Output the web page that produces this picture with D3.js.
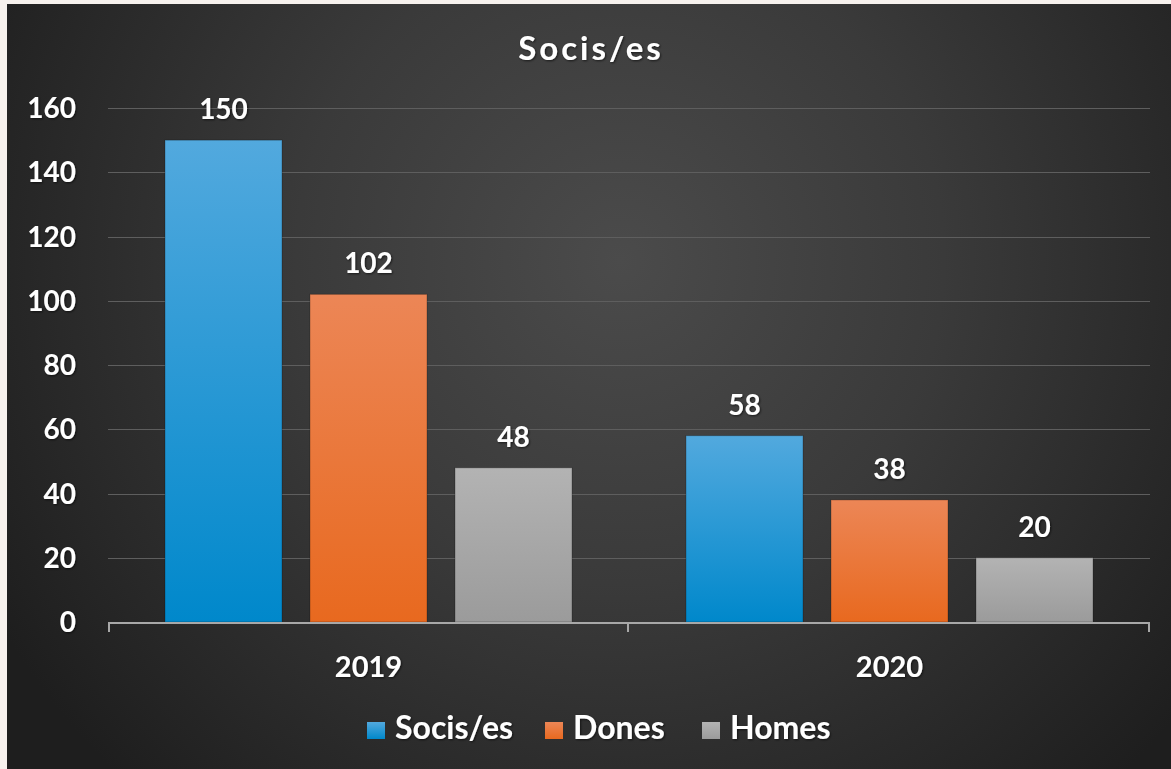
<!DOCTYPE html>
<html>
<head>
<meta charset="utf-8">
<script src="https://cdn.jsdelivr.net/npm/d3@7"></script>
<style>
  html, body { margin: 0; padding: 0; background: #f7f2ee; }
  svg { display: block; }
  text { font-family: Lato, "Open Sans", sans-serif; font-weight: 700; fill: #ffffff; }
</style>
</head>
<body>
<svg id="chart" width="1171" height="769"></svg>
<script>
const title = "Socis/es";
const categories = ["2019", "2020"];
const seriesNames = ["Socis/es", "Dones", "Homes"];
const sociesValues = [150, 58];
const donesValues = [102, 38];
const homesValues = [48, 20];
const yTicks = [0, 20, 40, 60, 80, 100, 120, 140, 160];

(function () {
const seriesValues = [sociesValues, donesValues, homesValues];
const colorsTop = ["#52a9de", "#ec8656", "#b3b3b3"];
const colorsBottom = ["#0088cb", "#e8691f", "#9b9b9b"];

const W = 1171, H = 769;
const svg = d3.select("#chart");
const defs = svg.append("defs");

const bg = defs.append("radialGradient").attr("id", "bg")
  .attr("gradientUnits", "userSpaceOnUse")
  .attr("cx", 620).attr("cy", 260).attr("r", 720);
bg.append("stop").attr("offset", "0").attr("stop-color", "#4b4b4b");
bg.append("stop").attr("offset", "0.45").attr("stop-color", "#3a3a3a");
bg.append("stop").attr("offset", "1").attr("stop-color", "#1e1e1e");

svg.append("rect").attr("x", 0).attr("y", 0).attr("width", W).attr("height", H).attr("fill", "#f7f2ee");
svg.append("rect").attr("x", 7).attr("y", 4).attr("width", W - 7).attr("height", H - 4).attr("fill", "url(#bg)");

seriesNames.forEach((s, i) => {
  const g = defs.append("linearGradient").attr("id", "grad" + i)
    .attr("x1", 0).attr("y1", 0).attr("x2", 0).attr("y2", 1);
  g.append("stop").attr("offset", "0").attr("stop-color", colorsTop[i]);
  g.append("stop").attr("offset", "1").attr("stop-color", colorsBottom[i]);
});

const shadow = defs.append("filter").attr("id", "tshadow").attr("x", "-10%").attr("y", "-10%").attr("width", "120%").attr("height", "130%");
shadow.append("feDropShadow").attr("dx", 1).attr("dy", 1).attr("stdDeviation", 1).attr("flood-color", "#000").attr("flood-opacity", 0.6);

const pLeft = 108, pRight = 1150, pTop = 108, pBottom = 622;

const y = d3.scaleLinear().domain([0, 160]).range([pBottom, pTop]);
const x0 = d3.scaleBand().domain(categories).range([pLeft, pRight]).paddingInner(0).paddingOuter(0);
const x1 = d3.scaleBand().domain(seriesNames).range([0, x0.bandwidth()]).paddingInner(0.193).paddingOuter(0.393);

svg.append("g").selectAll("line").data(yTicks.filter(t => t > 0)).join("line")
  .attr("x1", pLeft).attr("x2", pRight)
  .attr("y1", d => Math.round(y(d)) + 0.5).attr("y2", d => Math.round(y(d)) + 0.5)
  .attr("stroke", "#5e5e5e").attr("stroke-width", 1);

svg.append("g").selectAll("text").data(yTicks).join("text")
  .attr("x", 76).attr("y", d => y(d))
  .attr("dy", "0.36em")
  .attr("text-anchor", "end")
  .attr("font-size", 28)
  .attr("filter", "url(#tshadow)")
  .text(d => d);

const groups = svg.append("g").selectAll("g").data(categories).join("g")
  .attr("transform", d => `translate(${x0(d)},0)`);

groups.each(function (cat, ci) {
  const g = d3.select(this);
  seriesNames.forEach((s, si) => {
    const v = seriesValues[si][ci];
    g.append("rect")
      .attr("x", x1(s)).attr("y", y(v))
      .attr("width", x1.bandwidth()).attr("height", y(0) - y(v))
      .attr("fill", `url(#grad${si})`)
      .attr("stroke", "rgba(0,0,0,0.25)").attr("stroke-width", 1);
    g.append("text")
      .attr("x", x1(s) + x1.bandwidth() / 2).attr("y", y(v) - 21)
      .attr("text-anchor", "middle")
      .attr("font-size", 28)
      .attr("filter", "url(#tshadow)")
      .text(v);
  });
});

const axisColor = "#a8a8a8";
svg.append("line").attr("x1", pLeft).attr("x2", pRight).attr("y1", pBottom + 1).attr("y2", pBottom + 1)
  .attr("stroke", axisColor).attr("stroke-width", 2);
const tickXs = [pLeft, ...categories.map(c => x0(c) + x0.bandwidth())];
svg.append("g").selectAll("line").data(tickXs).join("line")
  .attr("x1", d => d === pLeft ? d + 1 : d - 1).attr("x2", d => d === pLeft ? d + 1 : d - 1)
  .attr("y1", pBottom).attr("y2", pBottom + 10)
  .attr("stroke", axisColor).attr("stroke-width", 2);

svg.append("g").selectAll("text").data(categories).join("text")
  .attr("x", d => x0(d) + x0.bandwidth() / 2)
  .attr("y", 677)
  .attr("text-anchor", "middle")
  .attr("font-size", 29)
  .attr("filter", "url(#tshadow)")
  .text(d => d);

svg.append("text")
  .attr("x", 591).attr("y", 60)
  .attr("text-anchor", "middle")
  .attr("font-size", 33)
  .attr("letter-spacing", 3)
  .attr("filter", "url(#tshadow)")
  .text(title);

const legendX = [367, 545, 702];
const lg = svg.append("g").selectAll("g").data(seriesNames).join("g")
  .attr("transform", (d, i) => `translate(${legendX[i]},722)`);
lg.append("rect").attr("width", 18).attr("height", 17)
  .attr("fill", (d, i) => `url(#grad${i})`);
lg.append("text").attr("x", 28).attr("y", 17)
  .attr("font-size", 32)
  .attr("filter", "url(#tshadow)")
  .text(d => d);
})();
</script>
</body>
</html>
